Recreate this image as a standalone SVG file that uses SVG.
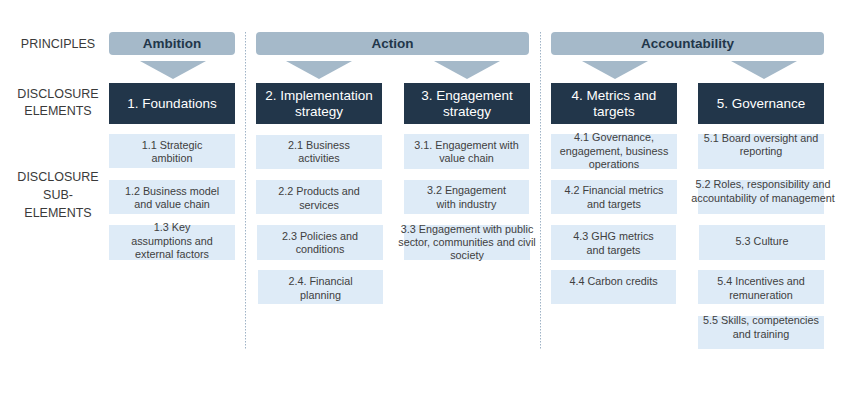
<svg xmlns="http://www.w3.org/2000/svg" width="860" height="420" viewBox="0 0 860 420">
<style>
text{font-family:"Liberation Sans",Arial,sans-serif;text-anchor:middle}
.lbl{font-size:12.5px;fill:#3a3a3a}
.pr{fill:#a5b9c9}
.prt{font-size:13.5px;font-weight:bold;fill:#22364a}
.el{fill:#22364a}
.elt{font-size:13.5px;fill:#ffffff}
.sub{fill:#deebf7}
.st{font-size:10.8px;fill:#404040}
.div{stroke:#9fb3c6;stroke-width:1;stroke-dasharray:1.5 1.5;fill:none}
</style>
<rect width="860" height="420" fill="#ffffff"/>
<g id="row-labels">
<text class="lbl" x="58" y="48">PRINCIPLES</text>
<text class="lbl" x="58" y="98">DISCLOSURE</text>
<text class="lbl" x="58" y="115">ELEMENTS</text>
<text class="lbl" x="58" y="181">DISCLOSURE</text>
<text class="lbl" x="58" y="199">SUB-</text>
<text class="lbl" x="58" y="217">ELEMENTS</text>
</g>
<g id="dividers">
<line class="div" x1="245.5" y1="32" x2="245.5" y2="349"/>
<line class="div" x1="540.5" y1="32" x2="540.5" y2="349"/>
</g>
<g id="principle-ambition">
<rect class="pr" x="109" y="32" width="126" height="23" rx="4"/>
<text class="prt" x="172" y="48">Ambition</text>
</g>
<g id="principle-action">
<rect class="pr" x="256" y="32" width="273" height="23" rx="4"/>
<text class="prt" x="392.5" y="48">Action</text>
</g>
<g id="principle-accountability">
<rect class="pr" x="551" y="32" width="273" height="23" rx="4"/>
<text class="prt" x="687.5" y="48">Accountability</text>
</g>
<g id="connectors">
<polygon class="pr" points="140,61 206,61 173,79"/>
<polygon class="pr" points="286,61 352,61 319,79"/>
<polygon class="pr" points="434,61 500,61 467,79"/>
<polygon class="pr" points="582,61 648,61 615,79"/>
<polygon class="pr" points="731,61 797,61 764,79"/>
</g>
<g id="el-1">
<rect class="el" x="109" y="83" width="126" height="41"/>
<text class="elt" x="172" y="108">1. Foundations</text>
</g>
<g id="el-2">
<rect class="el" x="256" y="83" width="126" height="41"/>
<text class="elt" x="319" y="100">2. Implementation</text>
<text class="elt" x="319" y="116">strategy</text>
</g>
<g id="el-3">
<rect class="el" x="404" y="83" width="126" height="41"/>
<text class="elt" x="467" y="100">3. Engagement</text>
<text class="elt" x="467" y="116">strategy</text>
</g>
<g id="el-4">
<rect class="el" x="551" y="83" width="126" height="41"/>
<text class="elt" x="614" y="100">4. Metrics and</text>
<text class="elt" x="614" y="116">targets</text>
</g>
<g id="el-5">
<rect class="el" x="698" y="83" width="126" height="41"/>
<text class="elt" x="761" y="108">5. Governance</text>
</g>
<g id="sub-1-1">
<rect class="sub" x="109" y="134" width="126" height="34"/>
<text class="st" x="172" y="149">1.1 Strategic</text>
<text class="st" x="172" y="162">ambition</text>
</g>
<g id="sub-1-2">
<rect class="sub" x="109" y="180" width="126" height="34"/>
<text class="st" x="172" y="195">1.2 Business model</text>
<text class="st" x="172" y="208">and value chain</text>
</g>
<g id="sub-1-3">
<rect class="sub" x="109" y="225" width="126" height="35"/>
<text class="st" x="172" y="231">1.3 Key</text>
<text class="st" x="172" y="245">assumptions and</text>
<text class="st" x="172" y="258">external factors</text>
</g>
<g id="sub-2-1">
<rect class="sub" x="256" y="135" width="126" height="34"/>
<text class="st" x="319" y="149">2.1 Business</text>
<text class="st" x="319" y="162">activities</text>
</g>
<g id="sub-2-2">
<rect class="sub" x="256" y="180" width="126" height="34"/>
<text class="st" x="319" y="195">2.2 Products and</text>
<text class="st" x="319" y="209">services</text>
</g>
<g id="sub-2-3">
<rect class="sub" x="257" y="225" width="126" height="35"/>
<text class="st" x="320" y="240">2.3 Policies and</text>
<text class="st" x="320" y="253">conditions</text>
</g>
<g id="sub-2-4">
<rect class="sub" x="258" y="270" width="125" height="34"/>
<text class="st" x="320.5" y="285">2.4. Financial</text>
<text class="st" x="320.5" y="299">planning</text>
</g>
<g id="sub-3-1">
<rect class="sub" x="404" y="134" width="125" height="35"/>
<text class="st" x="466.5" y="149">3.1. Engagement with</text>
<text class="st" x="466.5" y="162">value chain</text>
</g>
<g id="sub-3-2">
<rect class="sub" x="404" y="180" width="125" height="34"/>
<text class="st" x="466.5" y="194">3.2 Engagement</text>
<text class="st" x="466.5" y="208">with industry</text>
</g>
<g id="sub-3-3">
<rect class="sub" x="404" y="225" width="126" height="35"/>
<text class="st" x="467" y="233">3.3 Engagement with public</text>
<text class="st" x="467" y="246">sector, communities and civil</text>
<text class="st" x="467" y="259">society</text>
</g>
<g id="sub-4-1">
<rect class="sub" x="551" y="134" width="126" height="35"/>
<text class="st" x="614" y="141">4.1 Governance,</text>
<text class="st" x="614" y="155">engagement, business</text>
<text class="st" x="614" y="168">operations</text>
</g>
<g id="sub-4-2">
<rect class="sub" x="551" y="180" width="126" height="34"/>
<text class="st" x="614" y="194">4.2 Financial metrics</text>
<text class="st" x="614" y="208">and targets</text>
</g>
<g id="sub-4-3">
<rect class="sub" x="551" y="225" width="125" height="35"/>
<text class="st" x="613.5" y="240">4.3 GHG metrics</text>
<text class="st" x="613.5" y="254">and targets</text>
</g>
<g id="sub-4-4">
<rect class="sub" x="551" y="270" width="125" height="34"/>
<text class="st" x="613.5" y="285">4.4 Carbon credits</text>
</g>
<g id="sub-5-1">
<rect class="sub" x="698" y="134" width="126" height="35"/>
<text class="st" x="761" y="142">5.1 Board oversight and</text>
<text class="st" x="761" y="155">reporting</text>
</g>
<g id="sub-5-2">
<rect class="sub" x="698" y="180" width="126" height="34"/>
<text class="st" x="763" y="188">5.2 Roles, responsibility and</text>
<text class="st" x="763" y="202">accountability of management</text>
</g>
<g id="sub-5-3">
<rect class="sub" x="699" y="225" width="126" height="35"/>
<text class="st" x="762" y="245">5.3 Culture</text>
</g>
<g id="sub-5-4">
<rect class="sub" x="698" y="270" width="126" height="34"/>
<text class="st" x="761" y="285">5.4 Incentives and</text>
<text class="st" x="761" y="299">remuneration</text>
</g>
<g id="sub-5-5">
<rect class="sub" x="698" y="316" width="126" height="33"/>
<text class="st" x="761" y="324">5.5 Skills, competencies</text>
<text class="st" x="761" y="338">and training</text>
</g>
</svg>
